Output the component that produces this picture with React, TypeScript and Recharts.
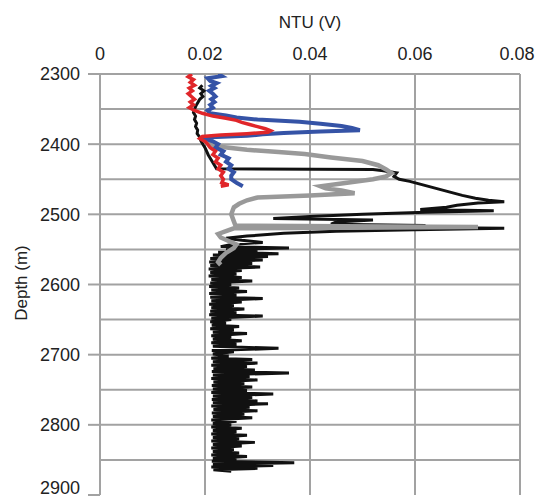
import React from 'react';
import { ScatterChart, Scatter, XAxis, YAxis, ReferenceLine } from 'recharts';

// [depth (m), NTU (V)] pairs
const blackProfile: [number, number][] = [
  [2316, 0.0195], [2320, 0.019], [2324, 0.0198], [2328, 0.0192], [2332, 0.0196], [2336, 0.019],
  [2340, 0.0187], [2345, 0.0183], [2350, 0.018], [2355, 0.0178], [2360, 0.0182], [2365, 0.018],
  [2370, 0.0184], [2375, 0.0182], [2380, 0.0186], [2385, 0.0185], [2390, 0.019], [2395, 0.0192],
  [2400, 0.0196], [2405, 0.02], [2410, 0.0203], [2415, 0.0206], [2420, 0.021], [2425, 0.0214],
  [2430, 0.0218], [2435, 0.0222], [2436, 0.052], [2438, 0.054], [2441, 0.0565], [2446, 0.056],
  [2450, 0.057], [2453, 0.059], [2458, 0.0615], [2463, 0.064], [2468, 0.0665], [2473, 0.069],
  [2477, 0.0715], [2480, 0.074], [2482, 0.077], [2484, 0.072], [2487, 0.068], [2490, 0.066],
  [2493, 0.061], [2495, 0.075], [2497, 0.062], [2500, 0.05], [2503, 0.04], [2506, 0.033],
  [2508, 0.052], [2511, 0.045], [2514, 0.044], [2516, 0.062], [2518, 0.05], [2520, 0.077],
  [2522, 0.06], [2524, 0.045], [2527, 0.035], [2531, 0.028], [2534, 0.024], [2537, 0.027],
  [2540, 0.031], [2543, 0.025],
  [2546, 0.023], [2548, 0.036], [2550, 0.024], [2552, 0.03], [2554, 0.0225], [2556, 0.034],
  [2558, 0.0215], [2560, 0.032], [2563, 0.021], [2565, 0.031], [2568, 0.0208], [2570, 0.029],
  [2573, 0.021], [2575, 0.0305], [2578, 0.0207], [2580, 0.027], [2583, 0.021], [2585, 0.026],
  [2588, 0.0207], [2590, 0.027], [2593, 0.0212], [2595, 0.029], [2598, 0.021], [2600, 0.025],
  [2603, 0.0208], [2605, 0.0265], [2608, 0.0212], [2610, 0.028], [2613, 0.0208], [2615, 0.026],
  [2618, 0.021], [2620, 0.031], [2623, 0.0212], [2625, 0.027], [2628, 0.0208], [2630, 0.0255],
  [2633, 0.0212], [2635, 0.0275], [2638, 0.021], [2640, 0.026], [2643, 0.0208], [2645, 0.031],
  [2648, 0.0212], [2650, 0.025], [2653, 0.021], [2655, 0.024], [2658, 0.0213], [2660, 0.0265],
  [2663, 0.021], [2665, 0.0255], [2668, 0.0215], [2670, 0.028], [2673, 0.0212], [2675, 0.025],
  [2678, 0.0215], [2680, 0.027], [2683, 0.0212], [2685, 0.026], [2688, 0.0215], [2691, 0.034],
  [2694, 0.0213], [2696, 0.0255], [2699, 0.0215], [2702, 0.0245], [2705, 0.0212], [2707, 0.029],
  [2710, 0.0215], [2712, 0.03], [2715, 0.0212], [2717, 0.028], [2720, 0.0216], [2722, 0.0295],
  [2724, 0.0213], [2726, 0.036], [2729, 0.0215], [2731, 0.0285], [2734, 0.0212], [2736, 0.03],
  [2739, 0.0216], [2741, 0.0275], [2744, 0.0213], [2746, 0.029], [2749, 0.0215], [2751, 0.028],
  [2754, 0.0212], [2756, 0.033], [2759, 0.0215], [2761, 0.029], [2764, 0.0213], [2766, 0.03],
  [2768, 0.0215], [2770, 0.032], [2773, 0.0212], [2775, 0.0285], [2778, 0.0216], [2780, 0.03],
  [2783, 0.0213], [2785, 0.0275], [2788, 0.0215], [2790, 0.029], [2793, 0.0212], [2795, 0.026],
  [2798, 0.0215], [2800, 0.025], [2803, 0.0212], [2805, 0.027], [2808, 0.0215], [2810, 0.026],
  [2813, 0.0212], [2815, 0.028], [2818, 0.0215], [2820, 0.0265], [2823, 0.0212], [2825, 0.0295],
  [2828, 0.0215], [2830, 0.027], [2833, 0.0212], [2835, 0.0255], [2838, 0.0215], [2840, 0.0265],
  [2843, 0.0212], [2845, 0.028], [2848, 0.0215], [2850, 0.026], [2852, 0.0213], [2854, 0.037],
  [2856, 0.0215], [2858, 0.033], [2860, 0.0212], [2862, 0.03], [2864, 0.0216], [2866, 0.025],
];

const grayProfile: [number, number][] = [
  [2397, 0.02], [2403, 0.022], [2408, 0.028], [2411, 0.034], [2414, 0.039], [2419, 0.044],
  [2424, 0.05], [2430, 0.053], [2436, 0.0545], [2441, 0.0555], [2446, 0.0545], [2450, 0.052],
  [2456, 0.046], [2460, 0.042], [2463, 0.043], [2466, 0.046], [2470, 0.0485], [2473, 0.04],
  [2476, 0.03], [2480, 0.028], [2485, 0.0265], [2490, 0.0255], [2500, 0.025], [2510, 0.0255],
  [2516, 0.0258], [2518, 0.072], [2520, 0.0255], [2524, 0.024], [2528, 0.0225], [2533, 0.023],
  [2538, 0.0245], [2543, 0.026], [2548, 0.0255], [2555, 0.024], [2562, 0.023], [2568, 0.0225],
  [2572, 0.023],
];

const blueProfile: [number, number][] = [
  [2300, 0.0225], [2303, 0.0232], [2306, 0.0205], [2310, 0.021], [2313, 0.0222], [2317, 0.0212],
  [2320, 0.0218], [2324, 0.0208], [2328, 0.0215], [2332, 0.022], [2336, 0.0212], [2340, 0.0218],
  [2344, 0.021], [2348, 0.0215], [2352, 0.0205], [2356, 0.021], [2359, 0.024], [2362, 0.026],
  [2365, 0.03], [2368, 0.038], [2371, 0.042], [2374, 0.046], [2377, 0.048], [2380, 0.0495],
  [2382, 0.042], [2384, 0.035], [2386, 0.031], [2388, 0.028], [2390, 0.021], [2392, 0.02],
  [2396, 0.0215], [2400, 0.0225], [2405, 0.022], [2410, 0.0235], [2415, 0.023], [2420, 0.0245],
  [2425, 0.024], [2430, 0.025], [2435, 0.0245], [2440, 0.0255], [2445, 0.025], [2450, 0.025],
  [2455, 0.026], [2460, 0.0272],
];

const redProfile: [number, number][] = [
  [2300, 0.0175], [2304, 0.0168], [2308, 0.0178], [2312, 0.0172], [2316, 0.018], [2320, 0.017],
  [2324, 0.0176], [2328, 0.0168], [2332, 0.0174], [2336, 0.018], [2340, 0.0172], [2344, 0.0178],
  [2348, 0.017], [2352, 0.018], [2356, 0.0195], [2360, 0.0215], [2363, 0.024], [2366, 0.026],
  [2369, 0.027], [2372, 0.0285], [2375, 0.03], [2378, 0.0315], [2381, 0.0325], [2383, 0.032],
  [2385, 0.028], [2387, 0.023], [2389, 0.0195], [2392, 0.019], [2396, 0.02], [2400, 0.0205],
  [2405, 0.021], [2410, 0.022], [2415, 0.0215], [2420, 0.0225], [2425, 0.022], [2430, 0.023],
  [2435, 0.0225], [2440, 0.0235], [2445, 0.023], [2450, 0.0235], [2455, 0.0232], [2458, 0.0245],
  [2460, 0.023],
];

const ntuTicks = [0, 0.02, 0.04, 0.06, 0.08];
const depthTicks = [2300, 2400, 2500, 2600, 2700, 2800, 2900];
const depthGrid = [2350, 2400, 2450, 2500, 2550, 2600, 2650, 2700, 2750, 2800, 2850];

const toPoints = (rows: [number, number][]) => rows.map(([depth, ntu]) => ({ depth, ntu }));

const GRID = '#a2a2a2';
const noDot = () => <g />;

// top labels; the last one is nudged left so it stays inside the frame
const NtuTick = ({ x, y, payload }: any) => {
  const v = payload.value as number;
  const shift = v === 0.08 ? -3 : 0;
  return (
    <text x={x + shift} y={y} textAnchor="middle" fontSize={18} fill="#222">
      {v === 0 ? '0' : v.toFixed(2)}
    </text>
  );
};

const DepthTick = ({ x, y, payload }: any) => (
  <text x={x} y={y} dy="0.36em" textAnchor="end" fontSize={18} fill="#222">
    {payload.value}
  </text>
);

export default function App() {
  // fixed to the viewport so the page never gets scrollbars
  return (
    <div style={{ position: 'fixed', left: 0, top: 0, width: 536, height: 497, background: '#fff', fontFamily: 'Arial, "Liberation Sans", sans-serif' }}>
      <div style={{ position: 'absolute', left: 270, top: 13, width: 80, textAlign: 'center', fontSize: 17, color: '#222' }}>
        NTU (V)
      </div>
      <div style={{ position: 'absolute', left: 22, top: 283, width: 0, height: 0, fontSize: 17, color: '#222', whiteSpace: 'nowrap' }}>
        <div style={{ transform: 'translate(-50%, -50%) rotate(-90deg)', display: 'inline-block' }}>Depth (m)</div>
      </div>
      <ScatterChart width={536} height={497} margin={{ top: 38, right: 16, bottom: 2, left: 0 }}>
        {depthGrid.map((d) => (
          <ReferenceLine key={d} y={d} stroke={GRID} strokeWidth={2} />
        ))}
        {ntuTicks.slice(1).map((v) => (
          <ReferenceLine key={v} x={v} stroke={GRID} strokeWidth={2} />
        ))}
        <XAxis
          type="number"
          dataKey="ntu"
          orientation="top"
          domain={[0, 0.08]}
          ticks={ntuTicks}
          height={36}
          tickLine={false}
          tickSize={0}
          tickMargin={14}
          axisLine={{ stroke: GRID, strokeWidth: 2 }}
          tick={<NtuTick />}
          allowDataOverflow
        />
        <YAxis
          type="number"
          dataKey="depth"
          reversed
          domain={[2300, 2900]}
          ticks={depthTicks}
          width={100}
          tickSize={12}
          tickMargin={8}
          tickLine={{ stroke: GRID, strokeWidth: 2 }}
          axisLine={{ stroke: GRID, strokeWidth: 2 }}
          tick={<DepthTick />}
          allowDataOverflow
        />
        <Scatter data={toPoints(blackProfile)} fill="#111" strokeWidth={3} line={{ stroke: '#111', strokeWidth: 3 }} shape={noDot} isAnimationActive={false} />
        <Scatter data={toPoints(grayProfile)} fill="#999" strokeWidth={4.5} line={{ stroke: '#999', strokeWidth: 4.5 }} shape={noDot} isAnimationActive={false} />
        <Scatter data={toPoints(blueProfile)} fill="#3553a6" strokeWidth={4} line={{ stroke: '#3553a6', strokeWidth: 4 }} shape={noDot} isAnimationActive={false} />
        <Scatter data={toPoints(redProfile)} fill="#e0262a" strokeWidth={3.5} line={{ stroke: '#e0262a', strokeWidth: 3.5 }} shape={noDot} isAnimationActive={false} />
      </ScatterChart>
    </div>
  );
}
